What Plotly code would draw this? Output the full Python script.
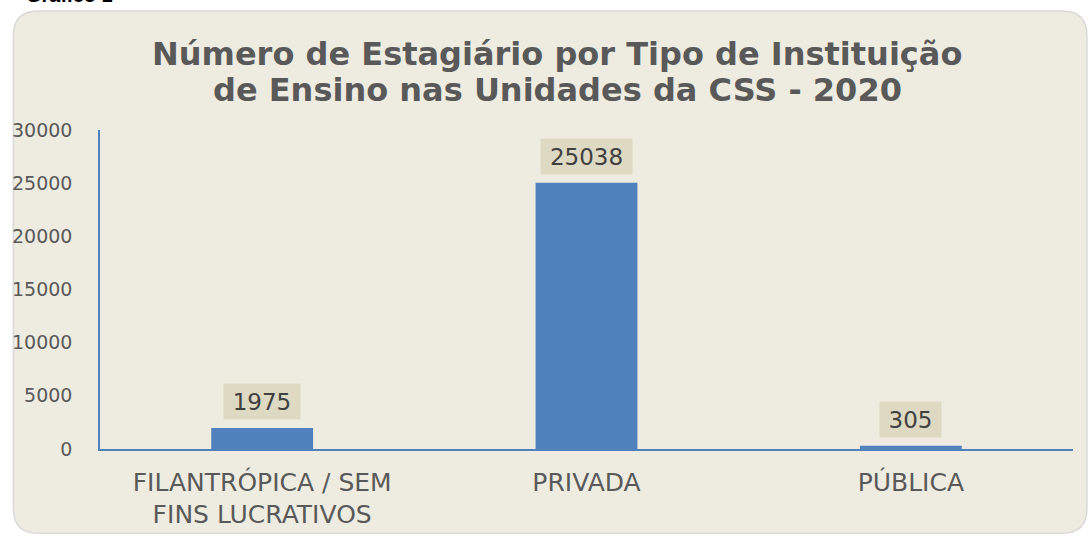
import plotly.graph_objects as go

categories = ["FILANTRÓPICA / SEM<br>FINS LUCRATIVOS", "PRIVADA", "PÚBLICA"]
values = [1975, 25038, 305]
y_ticks = [0, 5000, 10000, 15000, 20000, 25000, 30000]
title_lines = ["Número de Estagiário por Tipo de Instituição",
               "de Ensino nas Unidades da CSS - 2020"]
caption_text = "Gráfico 1"

W, H = 1089, 541
L, R, T, B = 96, 16, 130, 89
pw, ph = W - L - R, H - T - B

def px(x):
    return (x - L) / pw

def py(y):
    return (H - B - y) / ph

fig = go.Figure()
fig.add_trace(go.Bar(
    x=categories, y=values,
    marker=dict(color="#4F81BD", line=dict(width=0)),
    width=0.314,
    hoverinfo="skip",
))

# data labels with boxes
for c, v in zip(categories, values):
    s = str(v)
    fig.add_annotation(
        x=c, y=v, xref="x", yref="y",
        text=s, showarrow=False,
        yanchor="bottom", yshift=8,
        bgcolor="#DDD9C3",
        width=len(s) * 15 + 14, height=33,
        font=dict(family="DejaVu Sans", size=23, color="#404040"),
    )

# title (two lines, tighter spacing)
for line, ypix in zip(title_lines, [53, 90]):
    fig.add_annotation(
        x=px(555), y=py(ypix), xref="paper", yref="paper",
        text="<b>" + line + "</b>",
        showarrow=False, xanchor="center", yanchor="middle",
        font=dict(family="DejaVu Sans", size=32, color="#595959"),
    )

# caption cut at the top
fig.add_annotation(
    x=px(20), y=py(1), xref="paper", yref="paper",
    text="<b>" + caption_text + "</b>",
    showarrow=False, xanchor="left", yanchor="bottom", yshift=-6,
    font=dict(family="Liberation Sans", size=20, color="#000000"),
)

# rounded background panel
x0, x1 = px(9), px(1087)
y0, y1 = py(537), py(10)
rx, ry = 25 / pw, 25 / ph
path = (f"M {x0+rx},{y1} L {x1-rx},{y1} Q {x1},{y1} {x1},{y1-ry} "
        f"L {x1},{y0+ry} Q {x1},{y0} {x1-rx},{y0} L {x0+rx},{y0} "
        f"Q {x0},{y0} {x0},{y0+ry} L {x0},{y1-ry} Q {x0},{y1} {x0+rx},{y1} Z")
fig.add_shape(type="path", path=path, xref="paper", yref="paper",
              fillcolor="#EEECE1", line=dict(color="#D9D9D9", width=1.5),
              layer="below")

fig.update_layout(
    width=W, height=H,
    margin=dict(l=L, r=R, t=T, b=B, pad=0),
    paper_bgcolor="#FFFFFF",
    plot_bgcolor="rgba(0,0,0,0)",
    showlegend=False,
    bargap=0.686,
    font=dict(family="DejaVu Sans", color="#595959"),
)
fig.update_xaxes(
    showline=True, linecolor="#4F81BD", linewidth=1.5,
    showgrid=False, ticks="", ticklabelstandoff=10,
    tickfont=dict(family="DejaVu Sans", size=25, color="#595959"),
)
fig.update_yaxes(
    range=[0, 30000], tickvals=y_ticks, ticktext=[str(t) for t in y_ticks],
    showline=True, linecolor="#4F81BD", linewidth=1.5,
    showgrid=False, zeroline=False, ticks="", ticklabelstandoff=22,
    tickfont=dict(family="DejaVu Sans", size=19, color="#595959"),
)

fig.write_html(
    "out.html",
    config={"displayModeBar": False},
    post_script="document.body.style.margin='0';document.body.style.overflow='hidden';",
)
